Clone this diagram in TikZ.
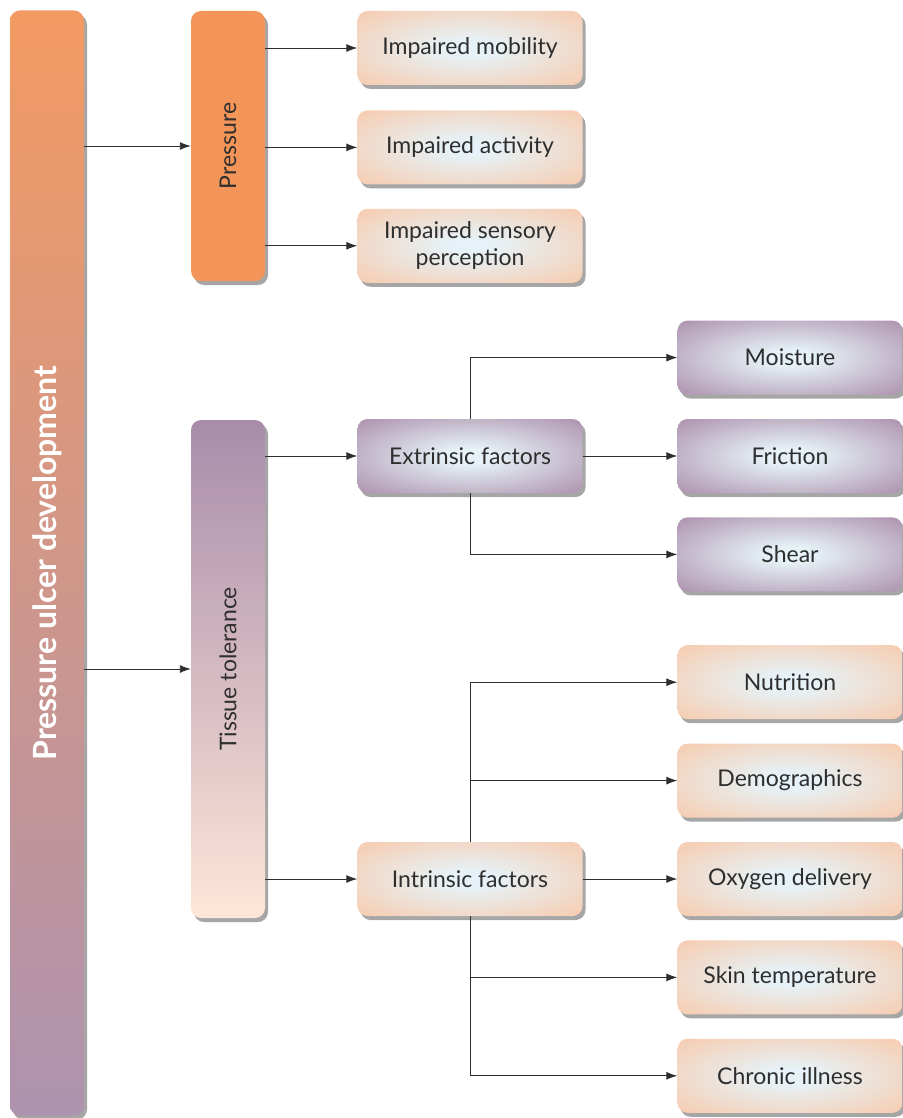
\documentclass[tikz,border=0pt]{standalone}
\usepackage{fontspec}
\setmainfont{Lato}
\usetikzlibrary{positioning}
\usetikzlibrary{arrows.meta}
\usetikzlibrary{shadows}

\definecolor{inkgray}{HTML}{2E2E2E}
\definecolor{pressorange}{HTML}{F39459}
\definecolor{bartop}{HTML}{F39A62}
\definecolor{barbottom}{HTML}{AE93AF}
\definecolor{tissuetop}{HTML}{A98CAA}
\definecolor{tissuebottom}{HTML}{FEE6D8}
\definecolor{peach}{HTML}{F7CBAE}
\definecolor{plum}{HTML}{AC90AC}
\definecolor{glow}{HTML}{E6F2F7}

\pgfdeclareradialshading{peachglow}{\pgfpoint{0bp}{0bp}}
    {color(0bp)=(glow); color(5bp)=(glow); color(36bp)=(peach); color(50bp)=(peach)}
\pgfdeclareradialshading{plumglow}{\pgfpoint{0bp}{0bp}}
    {color(0bp)=(glow); color(5bp)=(glow); color(36bp)=(plum); color(50bp)=(plum)}

\tikzset{pointer/.tip={Latex[length=11pt,width=8pt]}}
\tikzset{
    softshadow/.style={drop shadow={shadow xshift=3pt,shadow yshift=-4pt,opacity=0.35,fill=black}},
    box/.style={softshadow,rounded corners=10pt,minimum width=225pt,minimum height=74pt,
        inner sep=0pt,align=center,text=inkgray,font=\fontsize{23}{27}\selectfont},
    peachbox/.style={box,shade,shading=peachglow},
    plumbox/.style={box,shade,shading=plumglow},
    bar/.style={softshadow,rounded corners=10pt,minimum width=74pt,inner sep=0pt,
        text=inkgray,font=\fontsize{23}{27}\selectfont},
    elbow/.style={to path={|- (\tikztotarget) \tikztonodes}}
}

\begin{document}
\begin{tikzpicture}[x=1pt,y=-1pt,every edge/.style={draw,line width=0.9pt,inkgray,-pointer}]
        \useasboundingbox (0,0) rectangle (902,1118);

        \node (pud)      [bar,top color=bartop,bottom color=barbottom,minimum height=1105pt] at (47,563)
            {\rotatebox{90}{\fontsize{32}{34}\selectfont\bfseries\color{white}Pressure ulcer development}};
        \node (pressure) [bar,fill=pressorange,minimum height=270pt] at (228,146) {\rotatebox{90}{Pressure}};
        \node (tissue)   [bar,top color=tissuetop,bottom color=tissuebottom,minimum height=498pt] at (228,669)
            {\rotatebox{90}{Tissue tolerance}};

        \node (mobility) [peachbox]                      at (470,48) {Impaired mobility};
        \node (activity) [peachbox,below=25pt of mobility]           {Impaired activity};
        \node (sensory)  [peachbox,below=24pt of activity]           {Impaired sensory\\perception};

        \node (extrinsic) [plumbox]  at (470,456) {Extrinsic factors};
        \node (intrinsic) [peachbox] at (470,879) {Intrinsic factors};

        \node (friction) [plumbox]                       at (790,456) {Friction};
        \node (moisture) [plumbox,above=24pt of friction]             {Moisture};
        \node (shear)    [plumbox,below=24pt of friction]             {Shear};

        \node (oxygen)       [peachbox]                           at (790,879) {Oxygen delivery};
        \node (demographics) [peachbox,above=24pt of oxygen]                   {Demographics};
        \node (nutrition)    [peachbox,above=24pt of demographics]             {Nutrition};
        \node (skin)         [peachbox,below=24pt of oxygen]                   {Skin temperature};
        \node (chronic)      [peachbox,below=24pt of skin]                     {Chronic illness};

        \path (pud.east |- pressure)      edge (pressure)
              (pud.east |- tissue)        edge (tissue)
              (pressure.east |- mobility) edge (mobility)
              (pressure.east |- activity) edge (activity)
              (pressure.east |- sensory)  edge (sensory)
              (tissue.east |- extrinsic)  edge (extrinsic)
              (tissue.east |- intrinsic)  edge (intrinsic);

        \path (extrinsic.north) edge [elbow] (moisture)
              (extrinsic)       edge         (friction)
              (extrinsic.south) edge [elbow] (shear);

        \path (intrinsic.north) edge [elbow] (nutrition)
              (intrinsic.north) edge [elbow] (demographics)
              (intrinsic)       edge         (oxygen)
              (intrinsic.south) edge [elbow] (skin)
              (intrinsic.south) edge [elbow] (chronic);
    \end{tikzpicture}
\end{document}
